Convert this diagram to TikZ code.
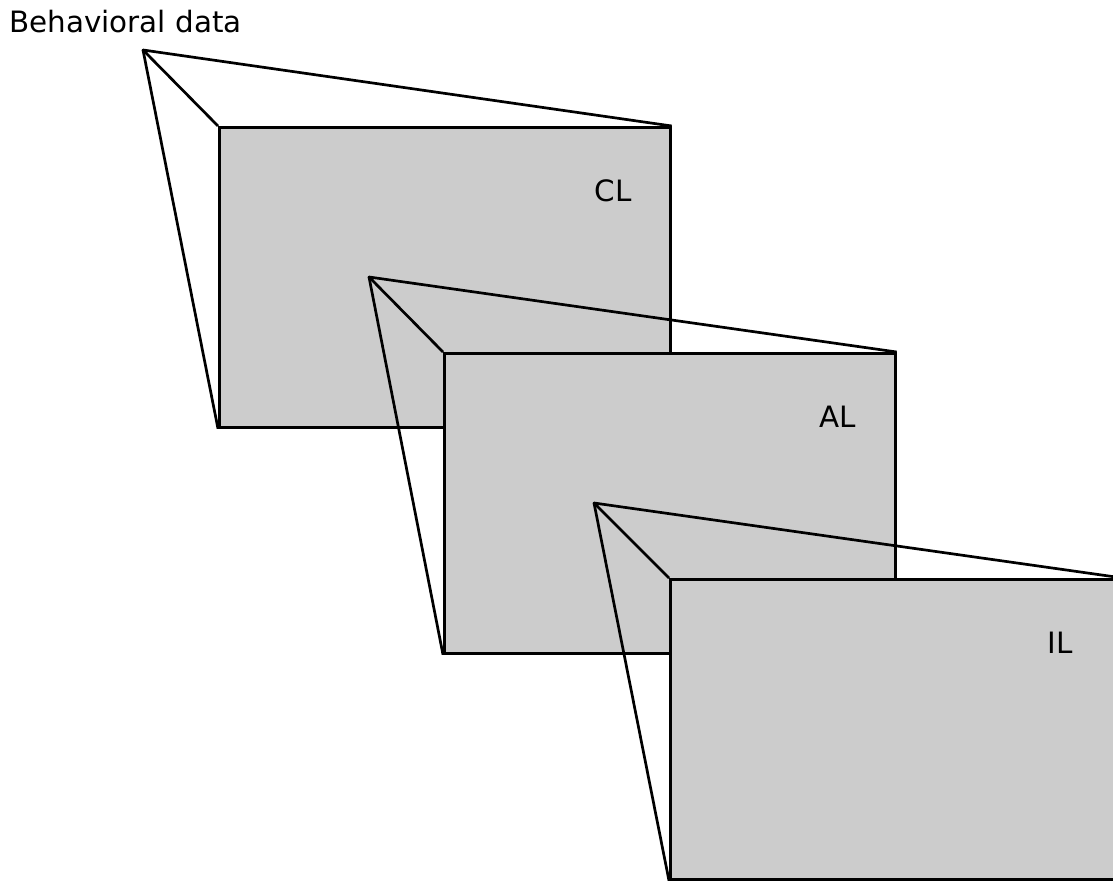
\documentclass[tikz,border=0pt]{standalone}
\usepackage{fontspec}
\setmainfont{DejaVu Sans}
\usetikzlibrary{calc}
\definecolor{layergray}{HTML}{CCCCCC}
\tikzset{
  layerbox/.style={draw=black,fill=layergray,line width=1.35pt,inner sep=0pt,minimum width=225.5pt,minimum height=150pt,anchor=north west},
  layertag/.style={font=\fontsize{14.7}{17}\selectfont,inner sep=0pt},
  funnel/.style={line width=1.35pt,draw=black,line join=round}
}

\begin{document}
\begin{tikzpicture}[x=0.5pt,y=-0.5pt]
  \clip (0,0) rectangle (1113,882);
  \node[layerbox] (cl) at (218,126) {};
  \node[layerbox] (al) at (443,352) {};
  \node[layerbox] (il) at (669,578) {};
  \node[layertag] (cltag) at ($(cl.north west)+(395,65)$) {CL};
  \node[layertag] (altag) at ($(al.north west)+(395,65)$) {AL};
  \node[layertag] (iltag) at ($(il.north west)+(391,65)$) {IL};
  \node[layertag,anchor=base west] (behav) at (9,33) {Behavioral data};
  \coordinate (clapex) at (143,50);
  \coordinate (alapex) at (369,277);
  \coordinate (ilapex) at (594,503);
  \draw[funnel] (cl.north west) -- (clapex) -- (cl.north east);
  \draw[funnel] (clapex) -- (cl.south west);
  \draw[funnel] (al.north west) -- (alapex) -- (al.north east);
  \draw[funnel] (alapex) -- (al.south west);
  \draw[funnel] (il.north west) -- (ilapex) -- (il.north east);
  \draw[funnel] (ilapex) -- (il.south west);
\end{tikzpicture}
\end{document}
